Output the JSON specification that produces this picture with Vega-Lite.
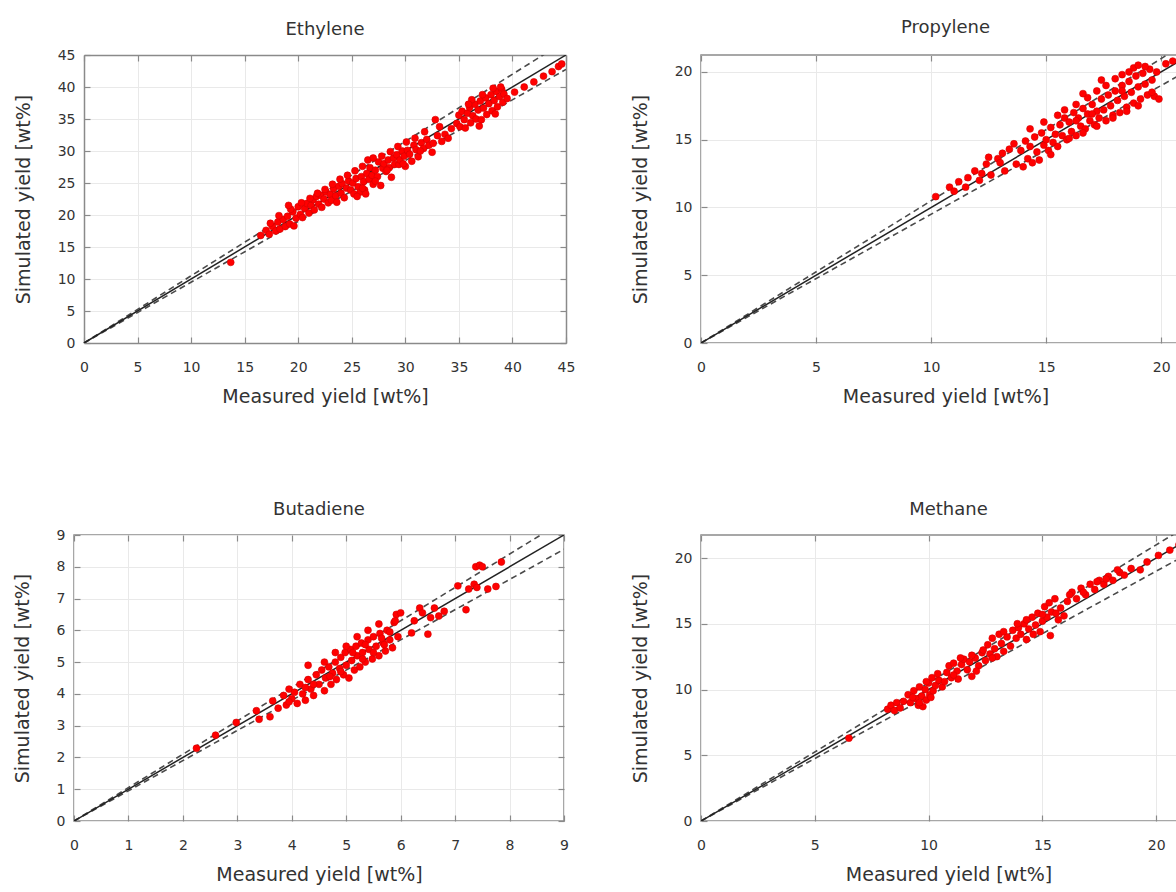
{
  "$schema": "https://vega.github.io/schema/vega-lite/v6.json",
  "background": "white",
  "padding": {"left": 12, "top": 18, "right": 0, "bottom": 0},
  "config": {
    "font": "DejaVu Sans",
    "view": {"stroke": "#8a8a8a", "strokeWidth": 1.5},
    "axis": {"domain": false, "domainColor": "#8a8a8a", "domainWidth": 1.5, "gridColor": "#e9e9e9", "gridWidth": 1, "tickColor": "#8a8a8a", "tickWidth": 1.2, "tickSize": -6, "labelColor": "#333333", "labelFontSize": 14, "labelFlush": false, "labelOverlap": false, "titleColor": "#333333", "titleFontSize": 19, "titleFontWeight": "normal"},
    "axisY": {"labelPadding": 15, "titlePadding": 24},
    "axisX": {"labelPadding": 23, "titlePadding": 13},
    "title": {"fontSize": 18, "fontWeight": "normal", "color": "#333333", "offset": 15, "frame": "group"}
  },
  "datasets": {
    "eth": [
      {"x":13.7,"y":12.6},{"x":16.5,"y":16.8},{"x":17.0,"y":17.6},{"x":17.3,"y":17.0},{"x":17.6,"y":18.2},{"x":17.9,"y":17.5},{"x":18.1,"y":18.9},{"x":18.3,"y":17.8},{"x":18.6,"y":19.3},{"x":18.8,"y":18.2},{"x":19.0,"y":19.8},{"x":19.2,"y":18.6},{"x":19.5,"y":20.5},{"x":19.6,"y":18.3},{"x":19.8,"y":19.5},{"x":20.0,"y":21.3},{"x":20.2,"y":20.1},{"x":20.4,"y":19.6},{"x":20.6,"y":21.0},{"x":20.8,"y":21.8},{"x":21.0,"y":20.3},
      {"x":21.2,"y":21.5},{"x":21.4,"y":22.4},{"x":21.5,"y":20.8},{"x":21.7,"y":22.9},{"x":21.9,"y":21.7},{"x":22.1,"y":23.1},{"x":22.2,"y":21.2},{"x":22.4,"y":22.5},{"x":22.6,"y":23.6},{"x":22.8,"y":21.9},{"x":23.0,"y":23.2},{"x":23.1,"y":22.3},{"x":23.3,"y":24.1},{"x":23.5,"y":23.0},{"x":23.6,"y":22.0},{"x":23.8,"y":24.5},{"x":24.0,"y":23.4},{"x":24.1,"y":24.9},{"x":24.3,"y":22.7},{"x":24.5,"y":24.2},
      {"x":24.7,"y":25.3},{"x":24.9,"y":23.9},{"x":25.1,"y":25.0},{"x":25.2,"y":23.3},{"x":25.4,"y":25.7},{"x":25.6,"y":24.4},{"x":25.8,"y":23.6},{"x":25.9,"y":26.0},{"x":26.1,"y":25.2},{"x":26.2,"y":23.9},{"x":26.4,"y":26.5},{"x":26.6,"y":25.6},{"x":26.7,"y":27.4},{"x":26.9,"y":26.2},{"x":27.0,"y":24.8},{"x":27.2,"y":27.0},{"x":27.4,"y":26.0},{"x":27.5,"y":28.3},{"x":27.7,"y":24.6},{"x":27.9,"y":27.3},
      {"x":28.0,"y":28.0},{"x":28.2,"y":26.8},{"x":28.4,"y":28.6},{"x":28.5,"y":27.4},{"x":28.7,"y":25.9},{"x":28.9,"y":28.9},{"x":29.0,"y":27.9},{"x":29.2,"y":29.4},{"x":29.4,"y":27.9},{"x":29.5,"y":28.6},{"x":29.7,"y":30.0},{"x":29.9,"y":29.2},{"x":30.0,"y":27.6},{"x":30.2,"y":30.1},{"x":30.4,"y":29.5},{"x":30.6,"y":28.4},{"x":30.8,"y":30.9},{"x":31.0,"y":30.2},{"x":31.2,"y":29.1},{"x":31.5,"y":31.3},
      {"x":31.7,"y":30.4},{"x":32.0,"y":31.8},{"x":32.2,"y":30.9},{"x":32.5,"y":29.8},{"x":32.8,"y":34.9},{"x":33.0,"y":32.4},{"x":33.4,"y":31.5},{"x":33.7,"y":32.6},{"x":34.0,"y":32.0},
      {"x":34.8,"y":34.3},{"x":35.0,"y":35.6},{"x":35.1,"y":33.8},{"x":35.3,"y":36.2},{"x":35.5,"y":34.9},{"x":35.6,"y":33.6},{"x":35.8,"y":35.9},{"x":36.0,"y":36.8},{"x":36.1,"y":34.4},{"x":36.3,"y":35.5},{"x":36.5,"y":37.3},{"x":36.6,"y":35.0},{"x":36.8,"y":36.4},{"x":37.0,"y":37.8},{"x":37.1,"y":34.9},{"x":37.3,"y":36.7},{"x":37.5,"y":38.3},{"x":37.6,"y":35.7},{"x":37.8,"y":37.4},{"x":38.0,"y":38.8},{"x":38.1,"y":36.3},{"x":38.3,"y":37.9},{"x":38.5,"y":39.3},{"x":38.6,"y":36.9},{"x":38.8,"y":38.5},{"x":39.0,"y":39.6},{"x":39.1,"y":37.6},{"x":39.2,"y":38.9},
      {"x":39.5,"y":38.2},{"x":40.2,"y":39.2},{"x":41.1,"y":40.0},{"x":42.0,"y":40.8},{"x":42.9,"y":41.7},{"x":43.7,"y":42.4},{"x":44.3,"y":43.2},{"x":44.6,"y":43.6},
      {"x":19.3,"y":20.9},{"x":20.3,"y":21.9},{"x":21.1,"y":22.6},{"x":21.8,"y":23.4},{"x":22.5,"y":24.0},{"x":23.2,"y":24.8},{"x":23.9,"y":25.6},{"x":24.6,"y":26.2},{"x":25.3,"y":26.9},{"x":26.0,"y":27.6},{"x":26.5,"y":28.6},{"x":27.0,"y":28.9},{"x":27.8,"y":29.2},{"x":28.6,"y":29.9},{"x":29.3,"y":30.7},{"x":30.1,"y":31.4},{"x":30.9,"y":32.0},{"x":31.8,"y":33.0},{"x":25.5,"y":22.9},{"x":26.3,"y":23.3},{"x":26.0,"y":24.2},{"x":27.2,"y":25.3},{"x":28.3,"y":27.0},{"x":29.8,"y":28.0},{"x":31.4,"y":30.0},{"x":32.6,"y":31.2},{"x":33.2,"y":33.8},{"x":34.3,"y":33.5},{"x":36.2,"y":38.0},{"x":37.2,"y":38.8},{"x":38.2,"y":39.8},{"x":38.9,"y":40.0},{"x":35.9,"y":37.3},{"x":36.9,"y":33.9},{"x":38.4,"y":35.8},{"x":19.1,"y":21.5},{"x":18.2,"y":19.9},{"x":17.4,"y":18.7}
    ],
    "pro": [
      {"x":10.2,"y":10.8},{"x":10.8,"y":11.5},{"x":11.2,"y":11.9},{"x":11.0,"y":11.2},{"x":11.6,"y":12.2},{"x":11.9,"y":12.7},{"x":12.1,"y":12.0},{"x":12.4,"y":13.2},{"x":12.5,"y":13.7},{"x":12.6,"y":12.4},{"x":12.9,"y":13.6},{"x":13.1,"y":14.0},{"x":13.2,"y":12.7},{"x":13.4,"y":14.3},{"x":13.6,"y":14.7},{"x":13.7,"y":13.2},{"x":13.9,"y":14.2},{"x":14.0,"y":13.0},{"x":14.1,"y":14.9},{"x":14.2,"y":13.6},{"x":14.3,"y":14.5},{"x":14.4,"y":13.3},{"x":14.5,"y":15.2},{"x":14.6,"y":14.1},{"x":14.7,"y":13.5},{"x":14.8,"y":15.5},{"x":14.9,"y":14.6},{"x":15.0,"y":15.0},{"x":15.1,"y":14.2},{"x":15.2,"y":15.9},{"x":15.3,"y":14.8},{"x":15.4,"y":15.4},{"x":15.5,"y":14.5},{"x":15.6,"y":16.1},{"x":15.7,"y":15.3},{"x":15.8,"y":16.6},{"x":15.9,"y":15.0},{"x":16.0,"y":16.3},{"x":16.1,"y":15.6},{"x":16.2,"y":17.0},{"x":16.3,"y":15.3},{"x":16.4,"y":16.6},{"x":16.5,"y":16.0},{"x":16.6,"y":17.3},{"x":16.7,"y":15.8},{"x":16.8,"y":16.9},{"x":16.9,"y":16.4},{"x":17.0,"y":17.6},{"x":17.1,"y":16.1},{"x":17.2,"y":17.1},{"x":17.3,"y":16.6},{"x":17.4,"y":18.0},{"x":17.5,"y":17.2},{"x":17.6,"y":16.4},{"x":17.7,"y":18.3},{"x":17.8,"y":17.5},{"x":17.9,"y":16.8},{"x":18.0,"y":18.6},{"x":18.1,"y":17.9},{"x":18.2,"y":17.0},{"x":18.3,"y":19.0},{"x":18.4,"y":18.2},{"x":18.5,"y":17.4},{"x":18.6,"y":19.3},{"x":18.7,"y":18.5},{"x":18.8,"y":17.7},{"x":18.9,"y":19.7},{"x":19.0,"y":18.9},{"x":19.1,"y":18.0},{"x":19.2,"y":19.9},{"x":19.3,"y":19.1},{"x":19.4,"y":18.3},{"x":19.5,"y":20.2},{"x":19.6,"y":19.4},{"x":19.7,"y":18.2},{"x":19.3,"y":20.4},{"x":18.6,"y":20.0},{"x":19.8,"y":20.0},{"x":20.9,"y":21.1},{"x":20.5,"y":20.8},
      {"x":15.8,"y":17.2},{"x":16.3,"y":17.6},{"x":16.8,"y":18.1},{"x":17.2,"y":18.6},{"x":17.6,"y":19.0},{"x":18.0,"y":19.5},{"x":18.3,"y":19.8},{"x":18.8,"y":20.3},{"x":19.0,"y":20.5},{"x":17.4,"y":19.4},{"x":16.6,"y":18.4},{"x":15.5,"y":16.8},{"x":14.9,"y":16.3},{"x":14.3,"y":15.8},{"x":15.2,"y":13.9},{"x":16.0,"y":15.1},{"x":16.6,"y":15.5},{"x":17.2,"y":16.0},{"x":17.9,"y":16.6},{"x":18.5,"y":17.1},{"x":19.0,"y":17.5},{"x":19.6,"y":18.5},{"x":19.9,"y":18.0},{"x":18.3,"y":18.6},{"x":17.0,"y":16.9},{"x":16.3,"y":16.4},{"x":20.2,"y":20.6},{"x":13.0,"y":13.3},{"x":11.5,"y":11.5},{"x":12.2,"y":12.5}
    ],
    "but": [
      {"x":2.25,"y":2.29},{"x":2.6,"y":2.7},{"x":2.98,"y":3.1},{"x":3.35,"y":3.47},{"x":3.4,"y":3.2},{"x":3.6,"y":3.28},{"x":3.65,"y":3.78},{"x":3.75,"y":3.55},{"x":3.85,"y":3.95},{"x":3.9,"y":3.65},{"x":3.95,"y":4.15},{"x":4.0,"y":3.85},{"x":4.05,"y":4.05},{"x":4.1,"y":3.7},{"x":4.15,"y":4.3},{"x":4.2,"y":4.0},{"x":4.25,"y":3.8},{"x":4.3,"y":4.45},{"x":4.35,"y":4.15},{"x":4.4,"y":3.95},{"x":4.45,"y":4.6},{"x":4.5,"y":4.3},{"x":4.55,"y":4.75},{"x":4.6,"y":4.1},{"x":4.62,"y":4.5},{"x":4.68,"y":4.85},{"x":4.72,"y":4.3},{"x":4.75,"y":4.65},{"x":4.8,"y":5.0},{"x":4.82,"y":4.45},{"x":4.88,"y":4.8},{"x":4.9,"y":5.15},{"x":4.95,"y":4.6},{"x":4.98,"y":5.3},{"x":5.0,"y":4.9},{"x":5.05,"y":4.5},{"x":5.08,"y":5.4},{"x":5.1,"y":5.05},{"x":5.15,"y":4.75},{"x":5.18,"y":5.5},{"x":5.2,"y":5.2},{"x":5.25,"y":4.85},{"x":5.28,"y":5.6},{"x":5.3,"y":5.3},{"x":5.35,"y":5.0},{"x":5.4,"y":5.7},{"x":5.42,"y":5.4},{"x":5.48,"y":5.1},{"x":5.5,"y":5.8},{"x":5.55,"y":5.5},{"x":5.6,"y":5.2},{"x":5.62,"y":5.9},{"x":5.68,"y":5.6},{"x":5.72,"y":5.35},{"x":5.75,"y":6.0},{"x":5.8,"y":5.7},{"x":5.85,"y":5.45},{"x":5.88,"y":6.25},{"x":5.92,"y":6.5},{"x":5.95,"y":5.8},{"x":6.0,"y":6.55},{"x":6.2,"y":5.92},{"x":6.25,"y":6.3},{"x":6.35,"y":6.7},{"x":6.4,"y":6.55},{"x":6.5,"y":5.88},{"x":6.55,"y":6.4},{"x":6.62,"y":6.7},{"x":6.7,"y":6.45},{"x":6.8,"y":6.6},{"x":7.05,"y":7.4},{"x":7.2,"y":6.65},{"x":7.25,"y":7.3},{"x":7.35,"y":7.45},{"x":7.38,"y":8.0},{"x":7.45,"y":8.05},{"x":7.5,"y":8.0},{"x":7.4,"y":7.35},{"x":7.6,"y":7.3},{"x":7.75,"y":7.38},{"x":7.85,"y":8.15},
      {"x":4.3,"y":4.9},{"x":4.6,"y":5.0},{"x":4.8,"y":5.3},{"x":5.0,"y":5.5},{"x":5.2,"y":5.8},{"x":5.4,"y":6.0},{"x":5.6,"y":6.2},{"x":5.9,"y":6.3},{"x":5.3,"y":5.1},{"x":5.5,"y":5.3},{"x":5.7,"y":5.55},{"x":4.4,"y":4.3},{"x":4.7,"y":4.55},{"x":4.9,"y":4.7},{"x":5.12,"y":5.3},{"x":5.35,"y":5.55},{"x":5.65,"y":5.75},{"x":5.8,"y":5.95},{"x":3.95,"y":3.75},{"x":4.25,"y":4.2}
    ],
    "met": [
      {"x":6.5,"y":6.3},{"x":8.2,"y":8.5},{"x":8.35,"y":8.8},{"x":8.5,"y":8.4},{"x":8.6,"y":9.0},{"x":8.75,"y":8.6},{"x":8.9,"y":9.1},{"x":9.1,"y":9.6},{"x":9.2,"y":9.0},{"x":9.35,"y":9.9},{"x":9.45,"y":9.3},{"x":9.55,"y":8.8},{"x":9.6,"y":10.2},{"x":9.7,"y":9.5},{"x":9.75,"y":8.7},{"x":9.85,"y":10.0},{"x":9.9,"y":9.2},{"x":10.0,"y":10.5},{"x":10.05,"y":9.6},{"x":10.15,"y":10.9},{"x":10.2,"y":9.9},{"x":10.3,"y":10.3},{"x":10.45,"y":10.7},{"x":10.6,"y":10.2},{"x":10.8,"y":11.3},{"x":10.9,"y":11.8},{"x":11.0,"y":10.9},{"x":11.1,"y":12.0},{"x":11.25,"y":11.4},{"x":11.3,"y":10.8},{"x":11.45,"y":11.9},{"x":11.55,"y":12.3},{"x":11.7,"y":11.5},{"x":11.8,"y":12.1},{"x":11.9,"y":11.0},{"x":12.05,"y":12.4},{"x":12.2,"y":11.8},{"x":12.35,"y":12.8},{"x":12.5,"y":12.2},{"x":12.6,"y":13.4},{"x":12.7,"y":12.7},{"x":12.8,"y":13.9},{"x":12.9,"y":13.1},{"x":13.0,"y":12.5},{"x":13.1,"y":14.2},{"x":13.2,"y":13.5},{"x":13.3,"y":12.9},{"x":13.45,"y":14.0},{"x":13.6,"y":13.3},{"x":13.7,"y":14.5},{"x":13.85,"y":13.9},{"x":13.95,"y":14.7},{"x":14.05,"y":14.2},{"x":14.2,"y":15.0},{"x":14.3,"y":13.8},{"x":14.4,"y":14.6},{"x":14.55,"y":15.5},{"x":14.7,"y":14.9},{"x":14.8,"y":15.8},{"x":14.9,"y":14.4},{"x":15.0,"y":15.2},{"x":15.1,"y":16.3},{"x":15.2,"y":15.5},{"x":15.35,"y":14.1},{"x":15.4,"y":15.9},{"x":15.55,"y":16.9},{"x":15.7,"y":15.3},{"x":15.8,"y":16.2},{"x":15.95,"y":15.6},{"x":16.1,"y":16.7},{"x":16.3,"y":17.4},{"x":16.5,"y":16.9},{"x":16.7,"y":17.7},{"x":16.9,"y":17.2},{"x":17.1,"y":18.0},{"x":17.3,"y":17.6},{"x":17.5,"y":18.3},{"x":17.7,"y":18.0},{"x":17.9,"y":18.6},{"x":18.1,"y":18.3},{"x":18.4,"y":18.9},{"x":18.6,"y":18.7},{"x":18.9,"y":19.2},{"x":19.3,"y":19.1},{"x":19.6,"y":19.7},{"x":20.1,"y":20.2},{"x":20.6,"y":20.6},{"x":21.0,"y":21.0},
      {"x":9.3,"y":9.4},{"x":9.9,"y":10.6},{"x":10.4,"y":11.2},{"x":10.7,"y":10.6},{"x":11.4,"y":12.4},{"x":11.9,"y":12.6},{"x":12.4,"y":13.0},{"x":12.8,"y":12.4},{"x":13.3,"y":14.4},{"x":13.9,"y":15.0},{"x":14.3,"y":15.3},{"x":14.6,"y":14.2},{"x":15.0,"y":15.7},{"x":15.3,"y":16.6},{"x":15.6,"y":15.8},{"x":16.2,"y":17.2},{"x":16.8,"y":17.4},{"x":17.4,"y":18.2},{"x":17.8,"y":18.4},{"x":18.3,"y":19.1},{"x":9.6,"y":9.0},{"x":10.1,"y":9.4},{"x":11.1,"y":11.1},{"x":12.1,"y":11.4}
    ]
  },
  "columns": 2,
  "align": "none",
  "bounds": "flush",
  "spacing": {"column": 135, "row": 192},
  "concat": [
    {
      "title": {"text": "Ethylene", "dx": 5, "offset": 9},
      "width": 492, "height": 288,
      "view": {"stroke": null},
      "resolve": {"axis": {"x": "independent", "y": "independent"}},
      "layer": [
        {
          "data": {"values": [{"x":0,"y":0,"k":"u"},{"x":45,"y":47.25,"k":"u"},{"x":0,"y":0,"k":"l"},{"x":45,"y":42.75,"k":"l"}]},
          "mark": {"type": "line", "clip": true, "color": "#4a4a4a", "strokeWidth": 1.6, "strokeDash": [6, 4]},
          "encoding": {
            "x": {"field": "x", "type": "quantitative", "scale": {"domain": [0, 45], "nice": false, "range": [10, 492]}, "axis": {"orient": "bottom", "domain": true, "values": [0,5,10,15,20,25,30,35,40,45], "grid": true, "title": "Measured yield [wt%]"}},
            "y": {"field": "y", "type": "quantitative", "scale": {"domain": [0, 45], "nice": false}, "axis": {"orient": "left", "offset": -10, "domain": true, "values": [0,5,10,15,20,25,30,35,40,45], "grid": true, "title": "Simulated yield [wt%]"}},
            "detail": {"field": "k"}
          }
        },
        {
          "data": {"values": [{"x":0,"y":0},{"x":45,"y":45}]},
          "mark": {"type": "line", "clip": true, "color": "#222222", "strokeWidth": 1.5},
          "encoding": {
            "x": {"field": "x", "type": "quantitative", "axis": {"orient": "top", "domain": true, "values": [0,5,10,15,20,25,30,35,40,45], "labels": false, "grid": false, "title": null}},
            "y": {"field": "y", "type": "quantitative", "axis": {"orient": "right", "domain": true, "values": [0,5,10,15,20,25,30,35,40,45], "labels": false, "grid": false, "title": null}}
          }
        },
        {
          "data": {"name": "eth"},
          "mark": {"type": "circle", "size": 48, "color": "#ff0000", "opacity": 1, "stroke": "#d40000", "strokeWidth": 0.6},
          "encoding": {
            "x": {"field": "x", "type": "quantitative", "axis": null},
            "y": {"field": "y", "type": "quantitative", "axis": null}
          }
        }
      ]
    },
    {
      "title": "Propylene",
      "width": 489, "height": 288,
      "resolve": {"axis": {"x": "independent", "y": "independent"}},
      "layer": [
        {
          "data": {"values": [{"x":0,"y":0,"k":"u"},{"x":21.25,"y":22.3,"k":"u"},{"x":0,"y":0,"k":"l"},{"x":21.25,"y":20.19,"k":"l"}]},
          "mark": {"type": "line", "clip": true, "color": "#4a4a4a", "strokeWidth": 1.6, "strokeDash": [6, 4]},
          "encoding": {
            "x": {"field": "x", "type": "quantitative", "scale": {"domain": [0, 21.25], "nice": false}, "axis": {"orient": "bottom", "values": [0,5,10,15,20], "grid": true, "title": "Measured yield [wt%]"}},
            "y": {"field": "y", "type": "quantitative", "scale": {"domain": [0, 21.25], "nice": false}, "axis": {"orient": "left", "values": [0,5,10,15,20], "grid": true, "title": "Simulated yield [wt%]"}},
            "detail": {"field": "k"}
          }
        },
        {
          "data": {"values": [{"x":0,"y":0},{"x":21.25,"y":21.25}]},
          "mark": {"type": "line", "clip": true, "color": "#222222", "strokeWidth": 1.5},
          "encoding": {
            "x": {"field": "x", "type": "quantitative", "axis": {"orient": "top", "values": [0,5,10,15,20], "labels": false, "grid": false, "title": null}},
            "y": {"field": "y", "type": "quantitative", "axis": {"orient": "right", "values": [0,5,10,15,20], "labels": false, "grid": false, "title": null}}
          }
        },
        {
          "data": {"name": "pro"},
          "mark": {"type": "circle", "size": 48, "color": "#ff0000", "opacity": 1, "stroke": "#d40000", "strokeWidth": 0.6},
          "encoding": {
            "x": {"field": "x", "type": "quantitative", "axis": null},
            "y": {"field": "y", "type": "quantitative", "axis": null}
          }
        }
      ]
    },
    {
      "title": {"text": "Butadiene", "offset": 9},
      "width": 490, "height": 286,
      "resolve": {"axis": {"x": "independent", "y": "independent"}},
      "layer": [
        {
          "data": {"values": [{"x":0,"y":0,"k":"u"},{"x":9,"y":9.45,"k":"u"},{"x":0,"y":0,"k":"l"},{"x":9,"y":8.55,"k":"l"}]},
          "mark": {"type": "line", "clip": true, "color": "#4a4a4a", "strokeWidth": 1.6, "strokeDash": [6, 4]},
          "encoding": {
            "x": {"field": "x", "type": "quantitative", "scale": {"domain": [0, 9], "nice": false}, "axis": {"orient": "bottom", "values": [0,1,2,3,4,5,6,7,8,9], "grid": true, "title": "Measured yield [wt%]"}},
            "y": {"field": "y", "type": "quantitative", "scale": {"domain": [0, 9], "nice": false}, "axis": {"orient": "left", "values": [0,1,2,3,4,5,6,7,8,9], "grid": true, "title": "Simulated yield [wt%]"}},
            "detail": {"field": "k"}
          }
        },
        {
          "data": {"values": [{"x":0,"y":0},{"x":9,"y":9}]},
          "mark": {"type": "line", "clip": true, "color": "#222222", "strokeWidth": 1.5},
          "encoding": {
            "x": {"field": "x", "type": "quantitative", "axis": {"orient": "top", "values": [0,1,2,3,4,5,6,7,8,9], "labels": false, "grid": false, "title": null}},
            "y": {"field": "y", "type": "quantitative", "axis": {"orient": "right", "values": [0,1,2,3,4,5,6,7,8,9], "labels": false, "grid": false, "title": null}}
          }
        },
        {
          "data": {"name": "but"},
          "mark": {"type": "circle", "size": 48, "color": "#ff0000", "opacity": 1, "stroke": "#d40000", "strokeWidth": 0.6},
          "encoding": {
            "x": {"field": "x", "type": "quantitative", "axis": null},
            "y": {"field": "y", "type": "quantitative", "axis": null}
          }
        }
      ]
    },
    {
      "title": "Methane",
      "width": 495, "height": 286,
      "resolve": {"axis": {"x": "independent", "y": "independent"}},
      "layer": [
        {
          "data": {"values": [{"x":0,"y":0,"k":"u"},{"x":21.75,"y":22.84,"k":"u"},{"x":0,"y":0,"k":"l"},{"x":21.75,"y":20.66,"k":"l"}]},
          "mark": {"type": "line", "clip": true, "color": "#4a4a4a", "strokeWidth": 1.6, "strokeDash": [6, 4]},
          "encoding": {
            "x": {"field": "x", "type": "quantitative", "scale": {"domain": [0, 21.75], "nice": false}, "axis": {"orient": "bottom", "values": [0,5,10,15,20], "grid": true, "title": "Measured yield [wt%]"}},
            "y": {"field": "y", "type": "quantitative", "scale": {"domain": [0, 21.75], "nice": false}, "axis": {"orient": "left", "values": [0,5,10,15,20], "grid": true, "title": "Simulated yield [wt%]"}},
            "detail": {"field": "k"}
          }
        },
        {
          "data": {"values": [{"x":0,"y":0},{"x":21.75,"y":21.75}]},
          "mark": {"type": "line", "clip": true, "color": "#222222", "strokeWidth": 1.5},
          "encoding": {
            "x": {"field": "x", "type": "quantitative", "axis": {"orient": "top", "values": [0,5,10,15,20], "labels": false, "grid": false, "title": null}},
            "y": {"field": "y", "type": "quantitative", "axis": {"orient": "right", "values": [0,5,10,15,20], "labels": false, "grid": false, "title": null}}
          }
        },
        {
          "data": {"name": "met"},
          "mark": {"type": "circle", "size": 48, "color": "#ff0000", "opacity": 1, "stroke": "#d40000", "strokeWidth": 0.6},
          "encoding": {
            "x": {"field": "x", "type": "quantitative", "axis": null},
            "y": {"field": "y", "type": "quantitative", "axis": null}
          }
        }
      ]
    }
  ]
}
